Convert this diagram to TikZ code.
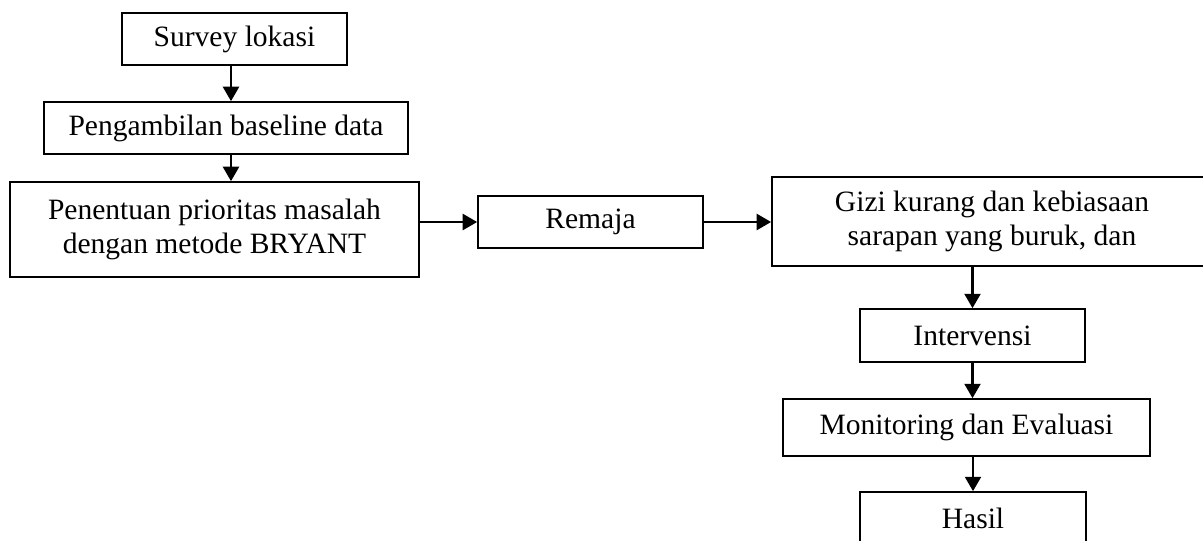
\documentclass[tikz,border=0pt]{standalone}
\usepackage{fontspec}
\setmainfont{Liberation Serif}
\usetikzlibrary{arrows.meta}
\begin{document}
\begin{tikzpicture}[x=0.025cm,y=-0.025cm,
    box/.style={draw,line width=1.2pt,inner sep=0pt,align=center,
        font=\fontsize{21}{23.8}\selectfont},
    flow/.style={line width=1.7pt,-{Triangle[length=0.36cm,width=0.4cm]}}]
        \useasboundingbox (0,0) rectangle (1203,540);
        \clip (0,0) rectangle (1203,540);
        % left column
        \node[box,minimum width=5.625cm,minimum height=1.3cm] (survey) at (234.5,39) {Survey lokasi};
        \node[box,minimum width=9.1cm,minimum height=1.3cm] (baseline) at (226,128) {Pengambilan baseline data};
        \node[box,minimum width=10.225cm,minimum height=2.375cm] (prioritas) at (214.5,229.5) {Penentuan prioritas masalah\\dengan metode BRYANT};
        \coordinate (spine) at (231,0);
        % middle and right
        \node[box,minimum width=5.625cm,minimum height=1.3cm] (remaja) at (590.5,222) {Remaja};
        \node[box,minimum width=11cm,minimum height=2.225cm] (gizi) at (992,221.5) {Gizi kurang dan kebiasaan\\sarapan yang buruk, dan};
        \node[box,minimum width=5.625cm,minimum height=1.325cm] (intervensi) at (972.5,335.5) {Intervensi};
        \node[box,minimum width=9.175cm,minimum height=1.425cm] (monev) at (966.5,427.5) {Monitoring dan Evaluasi};
        \node[box,minimum width=5.65cm,minimum height=1.325cm] (hasil) at (973,518.5) {Hasil};
        % arrows
        \draw[flow] (spine |- survey.south) -- (spine |- baseline.north);
        \draw[flow] (spine |- baseline.south) -- (spine |- prioritas.north);
        \draw[flow] (prioritas.east |- remaja.west) -- (remaja.west);
        \draw[flow] (remaja.east) -- (remaja.east -| gizi.west);
        \draw[flow] (intervensi.north |- gizi.south) -- (intervensi.north);
        \draw[flow] (intervensi.south) -- (intervensi.south |- monev.north);
        \draw[flow] (hasil.north |- monev.south) -- (hasil.north);
\end{tikzpicture}
\end{document}
